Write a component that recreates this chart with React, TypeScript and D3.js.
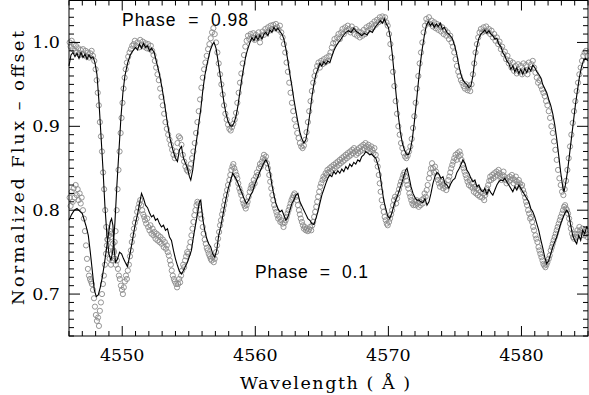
import React from "react";
import * as d3 from "d3";

// ---- Data (wavelength in Å, normalized flux - offset) ----
const modelTop: [number, number][] = [
[4546.0,0.972],[4546.15,0.985],[4546.3,0.988],[4546.45,0.983],[4546.6,0.987],[4546.75,0.981],[4546.9,0.988],[4547.05,0.982],[4547.2,0.986],[4547.35,0.980],[4547.5,0.985],[4547.65,0.981],[4547.8,0.983],[4547.95,0.976],
[4548.1,0.962],[4548.25,0.930],[4548.4,0.890],[4548.55,0.850],[4548.7,0.805],[4548.85,0.770],[4549.0,0.748],[4549.15,0.740],[4549.3,0.752],[4549.45,0.785],[4549.6,0.830],[4549.75,0.870],[4549.9,0.910],
[4550.05,0.940],[4550.2,0.960],[4550.4,0.975],[4550.6,0.985],[4550.8,0.990],[4551.0,0.994],[4551.15,0.991],[4551.3,0.998],[4551.45,0.993],[4551.6,0.999],[4551.75,0.994],[4551.9,0.996],[4552.05,0.990],[4552.2,0.993],[4552.4,0.988],
[4552.6,0.975],[4552.8,0.962],[4553.0,0.945],[4553.2,0.925],[4553.4,0.903],[4553.6,0.885],[4553.8,0.872],[4554.0,0.862],[4554.15,0.858],[4554.3,0.872],[4554.45,0.876],[4554.6,0.862],[4554.75,0.856],[4554.9,0.850],[4555.05,0.840],[4555.15,0.836],
[4555.3,0.848],[4555.45,0.868],[4555.6,0.885],[4555.75,0.903],[4555.9,0.920],[4556.05,0.942],[4556.2,0.960],[4556.4,0.976],[4556.6,0.990],[4556.8,0.998],[4556.9,1.000],[4557.05,0.993],[4557.2,0.978],[4557.35,0.962],[4557.5,0.945],
[4557.65,0.928],[4557.8,0.915],[4557.95,0.906],[4558.1,0.901],[4558.25,0.900],[4558.4,0.904],[4558.55,0.912],[4558.7,0.925],[4558.85,0.942],[4559.0,0.958],[4559.15,0.972],[4559.3,0.985],[4559.45,0.993],[4559.6,1.000],
[4559.75,1.006],[4559.9,1.002],[4560.05,1.008],[4560.2,1.003],[4560.35,1.009],[4560.5,1.004],[4560.65,1.010],[4560.8,1.012],[4560.95,1.008],[4561.1,1.015],[4561.25,1.012],[4561.4,1.018],[4561.55,1.014],[4561.7,1.017],[4561.85,1.013],
[4562.0,1.010],[4562.15,1.004],[4562.3,0.992],[4562.45,0.978],[4562.6,0.962],[4562.75,0.948],[4562.9,0.932],[4563.05,0.918],[4563.2,0.905],[4563.35,0.893],[4563.5,0.885],[4563.65,0.880],[4563.8,0.884],[4563.95,0.898],
[4564.1,0.915],[4564.25,0.935],[4564.4,0.950],[4564.55,0.962],[4564.7,0.968],[4564.85,0.975],[4565.0,0.972],[4565.15,0.977],[4565.3,0.974],[4565.45,0.978],[4565.6,0.976],[4565.75,0.983],[4565.9,0.990],[4566.05,0.995],
[4566.2,0.999],[4566.4,1.003],[4566.6,1.008],[4566.8,1.012],[4567.0,1.014],[4567.2,1.012],[4567.4,1.017],[4567.6,1.013],[4567.8,1.011],[4568.0,1.008],[4568.2,1.011],[4568.4,1.009],[4568.6,1.014],[4568.8,1.012],[4569.0,1.018],
[4569.2,1.022],[4569.4,1.026],[4569.55,1.023],[4569.7,1.028],[4569.85,1.022],[4570.0,1.018],[4570.15,1.005],[4570.3,0.985],[4570.45,0.960],[4570.6,0.935],[4570.75,0.912],[4570.9,0.893],[4571.05,0.880],[4571.2,0.872],
[4571.35,0.867],[4571.5,0.866],[4571.65,0.872],[4571.8,0.885],[4571.95,0.905],[4572.1,0.928],[4572.25,0.952],[4572.4,0.975],[4572.55,0.993],[4572.7,1.008],[4572.85,1.020],[4573.0,1.025],[4573.15,1.020],[4573.3,1.023],
[4573.45,1.018],[4573.6,1.022],[4573.75,1.019],[4573.9,1.023],[4574.05,1.016],[4574.2,1.018],[4574.4,1.012],[4574.6,1.009],[4574.8,1.005],[4575.0,0.995],[4575.15,0.985],[4575.3,0.972],[4575.45,0.962],[4575.6,0.955],
[4575.75,0.952],[4575.9,0.950],[4576.05,0.946],[4576.2,0.948],[4576.35,0.960],[4576.5,0.980],[4576.65,0.995],[4576.8,1.005],[4576.95,1.010],[4577.1,1.012],[4577.25,1.015],[4577.4,1.011],[4577.55,1.014],[4577.7,1.010],
[4577.85,1.008],[4578.0,1.004],[4578.15,1.005],[4578.3,0.998],[4578.45,0.995],[4578.6,0.988],[4578.75,0.984],[4578.9,0.978],[4579.05,0.975],[4579.2,0.968],[4579.35,0.972],[4579.5,0.965],[4579.65,0.970],[4579.8,0.963],
[4579.95,0.968],[4580.1,0.962],[4580.25,0.969],[4580.4,0.964],[4580.55,0.970],[4580.7,0.966],[4580.85,0.973],[4581.0,0.970],[4581.15,0.965],[4581.3,0.962],[4581.45,0.958],[4581.6,0.950],[4581.75,0.945],[4581.9,0.940],
[4582.05,0.932],[4582.2,0.925],[4582.35,0.915],[4582.5,0.902],[4582.65,0.885],[4582.8,0.865],[4582.95,0.845],[4583.1,0.828],[4583.2,0.822],[4583.3,0.830],[4583.45,0.845],[4583.6,0.865],[4583.75,0.885],[4583.9,0.905],
[4584.05,0.925],[4584.2,0.942],[4584.35,0.958],[4584.5,0.970],[4584.65,0.978],[4584.8,0.981],[4585.0,0.978]
];

const modelBottom: [number, number][] = [
[4546.0,0.788],[4546.2,0.795],[4546.4,0.800],[4546.6,0.802],[4546.8,0.799],[4547.0,0.796],[4547.15,0.788],[4547.3,0.780],[4547.45,0.770],[4547.6,0.750],[4547.75,0.728],[4547.9,0.705],[4548.05,0.697],[4548.2,0.699],
[4548.35,0.708],[4548.5,0.720],[4548.65,0.735],[4548.8,0.752],[4548.95,0.770],[4549.1,0.786],[4549.2,0.790],[4549.3,0.782],[4549.4,0.752],[4549.5,0.738],[4549.65,0.742],[4549.8,0.750],[4549.95,0.748],[4550.1,0.742],
[4550.25,0.737],[4550.4,0.733],[4550.55,0.745],[4550.7,0.758],[4550.85,0.772],[4551.0,0.785],[4551.15,0.795],[4551.3,0.808],[4551.45,0.820],[4551.6,0.814],[4551.75,0.806],[4551.9,0.803],[4552.05,0.797],[4552.2,0.792],
[4552.35,0.794],[4552.5,0.788],[4552.65,0.790],[4552.8,0.784],[4552.95,0.780],[4553.1,0.782],[4553.25,0.776],[4553.4,0.778],[4553.55,0.768],[4553.7,0.764],[4553.85,0.752],[4554.0,0.742],[4554.15,0.734],[4554.3,0.727],
[4554.45,0.724],[4554.6,0.728],[4554.75,0.733],[4554.9,0.738],[4555.05,0.745],[4555.2,0.752],[4555.35,0.768],[4555.5,0.782],[4555.65,0.795],[4555.8,0.810],[4555.9,0.812],[4556.05,0.790],[4556.2,0.776],[4556.35,0.766],
[4556.5,0.760],[4556.65,0.756],[4556.8,0.748],[4556.95,0.744],[4557.1,0.752],[4557.25,0.770],[4557.4,0.780],[4557.55,0.793],[4557.7,0.806],[4557.85,0.818],[4558.0,0.828],[4558.15,0.836],[4558.3,0.844],[4558.45,0.840],
[4558.6,0.836],[4558.75,0.830],[4558.9,0.824],[4559.05,0.818],[4559.2,0.812],[4559.35,0.808],[4559.5,0.812],[4559.65,0.818],[4559.8,0.822],[4559.95,0.830],[4560.1,0.836],[4560.25,0.842],[4560.4,0.848],[4560.55,0.853],
[4560.7,0.858],[4560.8,0.860],[4560.95,0.855],[4561.1,0.845],[4561.25,0.830],[4561.4,0.818],[4561.55,0.808],[4561.7,0.802],[4561.85,0.798],[4562.0,0.800],[4562.15,0.794],[4562.3,0.788],[4562.45,0.792],[4562.6,0.800],
[4562.75,0.808],[4562.9,0.812],[4563.05,0.818],[4563.2,0.820],[4563.35,0.810],[4563.5,0.805],[4563.65,0.800],[4563.8,0.795],[4563.95,0.790],[4564.1,0.788],[4564.25,0.784],[4564.4,0.783],[4564.55,0.790],[4564.7,0.798],
[4564.85,0.808],[4565.0,0.818],[4565.15,0.825],[4565.3,0.832],[4565.45,0.838],[4565.6,0.842],[4565.75,0.840],[4565.9,0.846],[4566.05,0.843],[4566.2,0.847],[4566.35,0.844],[4566.5,0.849],[4566.65,0.846],[4566.8,0.852],
[4566.95,0.849],[4567.1,0.855],[4567.25,0.852],[4567.4,0.857],[4567.55,0.855],[4567.7,0.860],[4567.85,0.858],[4568.0,0.864],[4568.15,0.866],[4568.3,0.870],[4568.45,0.868],[4568.6,0.866],[4568.75,0.867],[4568.9,0.864],
[4569.05,0.862],[4569.2,0.855],[4569.35,0.845],[4569.5,0.828],[4569.65,0.812],[4569.8,0.802],[4569.95,0.793],[4570.1,0.790],[4570.25,0.796],[4570.4,0.805],[4570.55,0.812],[4570.7,0.818],[4570.85,0.825],[4571.0,0.832],
[4571.15,0.840],[4571.3,0.848],[4571.4,0.850],[4571.55,0.840],[4571.7,0.828],[4571.85,0.820],[4572.0,0.815],[4572.15,0.812],[4572.3,0.812],[4572.45,0.810],[4572.6,0.809],[4572.75,0.814],[4572.9,0.806],[4573.05,0.810],
[4573.2,0.820],[4573.35,0.832],[4573.5,0.840],[4573.65,0.845],[4573.8,0.843],[4573.95,0.838],[4574.1,0.840],[4574.25,0.832],[4574.4,0.830],[4574.55,0.826],[4574.7,0.832],[4574.85,0.836],[4575.0,0.838],[4575.15,0.845],
[4575.3,0.849],[4575.45,0.854],[4575.6,0.860],[4575.75,0.856],[4575.9,0.848],[4576.05,0.844],[4576.2,0.838],[4576.35,0.834],[4576.5,0.836],[4576.65,0.828],[4576.8,0.830],[4576.95,0.824],[4577.1,0.822],[4577.25,0.826],
[4577.4,0.819],[4577.55,0.825],[4577.7,0.821],[4577.85,0.818],[4578.0,0.824],[4578.15,0.830],[4578.3,0.834],[4578.45,0.836],[4578.6,0.835],[4578.75,0.838],[4578.9,0.834],[4579.05,0.830],[4579.2,0.826],[4579.35,0.822],
[4579.5,0.828],[4579.65,0.824],[4579.8,0.830],[4579.95,0.826],[4580.1,0.822],[4580.25,0.818],[4580.4,0.814],[4580.55,0.810],[4580.7,0.802],[4580.85,0.798],[4581.0,0.792],[4581.15,0.784],[4581.3,0.776],[4581.45,0.765],
[4581.6,0.755],[4581.75,0.744],[4581.9,0.736],[4582.05,0.740],[4582.2,0.748],[4582.35,0.756],[4582.5,0.762],[4582.65,0.768],[4582.8,0.776],[4582.95,0.784],[4583.1,0.790],[4583.25,0.796],[4583.4,0.800],[4583.55,0.796],
[4583.7,0.782],[4583.85,0.770],[4584.0,0.764],[4584.15,0.760],[4584.3,0.770],[4584.45,0.764],[4584.6,0.776],[4584.75,0.772],[4584.9,0.780],[4585.0,0.778]
];

const obsTop: [number, number][] = [
[4546.05,1.000],[4546.12,0.995],[4546.2,1.002],[4546.28,0.992],[4546.35,0.998],[4546.45,0.990],[4546.52,0.996],[4546.6,0.988],[4546.7,0.993],[4546.8,0.985],[4546.88,0.991],[4546.98,0.986],[4547.05,0.992],[4547.15,0.985],
[4547.25,0.990],[4547.33,0.983],[4547.42,0.988],[4547.52,0.982],[4547.6,0.987],[4547.7,0.990],[4547.8,0.984],[4547.9,0.978],[4548.0,0.968],[4548.08,0.955],[4548.16,0.940],[4548.24,0.925],[4548.32,0.905],[4548.4,0.888],
[4548.48,0.870],[4548.56,0.845],[4548.64,0.825],[4548.72,0.800],[4548.8,0.780],[4548.88,0.765],[4548.96,0.752],[4549.05,0.742],[4549.15,0.735],[4549.25,0.740],[4549.35,0.752],[4549.43,0.762],[4549.5,0.775],[4549.58,0.800],
[4549.65,0.825],[4549.72,0.848],[4549.8,0.870],[4549.88,0.892],[4549.95,0.910],[4550.02,0.928],[4550.1,0.945],[4550.18,0.958],[4550.26,0.968],[4550.35,0.976],[4550.45,0.983],[4550.55,0.988],[4550.65,0.992],[4550.75,0.996],
[4550.85,0.998],[4550.95,1.002],[4551.05,0.996],[4551.15,1.000],[4551.25,0.994],[4551.35,1.003],[4551.45,0.997],[4551.55,1.001],[4551.65,0.995],[4551.75,0.999],[4551.85,0.993],[4551.95,0.998],[4552.05,0.992],[4552.15,0.996],
[4552.25,0.990],[4552.35,0.985],[4552.45,0.978],[4552.55,0.970],[4552.65,0.962],[4552.75,0.955],[4552.85,0.945],[4552.95,0.935],[4553.05,0.925],[4553.15,0.915],[4553.25,0.905],[4553.35,0.897],[4553.45,0.890],[4553.55,0.884],
[4553.65,0.878],[4553.75,0.872],[4553.85,0.866],[4553.95,0.862],[4554.05,0.870],[4554.15,0.880],[4554.25,0.888],[4554.35,0.886],[4554.45,0.878],[4554.55,0.866],[4554.65,0.858],[4554.75,0.852],[4554.85,0.848],[4554.95,0.846],
[4555.05,0.850],[4555.15,0.855],[4555.25,0.862],[4555.35,0.870],[4555.45,0.880],[4555.55,0.892],[4555.65,0.905],[4555.75,0.918],[4555.85,0.932],[4555.95,0.946],[4556.05,0.958],[4556.15,0.968],[4556.25,0.976],[4556.35,0.984],
[4556.45,0.992],[4556.55,0.998],[4556.65,1.005],[4556.75,1.012],[4556.85,1.017],[4556.95,1.010],[4557.05,1.000],[4557.15,0.988],[4557.25,0.975],[4557.35,0.962],[4557.45,0.950],[4557.55,0.938],[4557.65,0.925],[4557.75,0.915],
[4557.85,0.908],[4557.95,0.902],[4558.05,0.897],[4558.15,0.895],[4558.25,0.899],[4558.35,0.903],[4558.45,0.908],[4558.55,0.916],[4558.65,0.928],[4558.75,0.940],[4558.85,0.952],[4558.95,0.963],[4559.05,0.975],[4559.15,0.985],
[4559.25,0.995],[4559.35,1.002],[4559.45,1.008],[4559.55,1.004],[4559.65,1.010],[4559.75,1.006],[4559.85,1.011],[4559.95,1.003],[4560.05,1.009],[4560.15,1.005],[4560.25,1.012],[4560.35,1.000],[4560.45,1.008],[4560.55,1.013],
[4560.65,1.009],[4560.75,1.016],[4560.85,1.012],[4560.95,1.018],[4561.05,1.014],[4561.15,1.020],[4561.25,1.016],[4561.35,1.021],[4561.45,1.017],[4561.55,1.022],[4561.65,1.018],[4561.75,1.015],[4561.85,1.020],[4561.95,1.012],
[4562.05,1.006],[4562.15,0.998],[4562.25,0.988],[4562.35,0.976],[4562.45,0.965],[4562.55,0.952],[4562.65,0.940],[4562.75,0.928],[4562.85,0.918],[4562.95,0.908],[4563.05,0.900],[4563.15,0.892],[4563.25,0.886],[4563.35,0.880],
[4563.45,0.876],[4563.55,0.874],[4563.65,0.877],[4563.75,0.884],[4563.85,0.893],[4563.95,0.905],[4564.05,0.918],[4564.15,0.930],[4564.25,0.942],[4564.35,0.952],[4564.45,0.960],[4564.55,0.966],[4564.65,0.972],[4564.75,0.976],
[4564.85,0.970],[4564.95,0.978],[4565.05,0.974],[4565.15,0.980],[4565.25,0.976],[4565.35,0.982],[4565.45,0.978],[4565.55,0.984],[4565.65,0.988],[4565.75,0.994],[4565.85,0.999],[4565.95,1.004],[4566.05,1.000],[4566.15,1.006],
[4566.25,1.010],[4566.35,1.004],[4566.45,1.012],[4566.55,1.016],[4566.65,1.010],[4566.75,1.018],[4566.85,1.014],[4566.95,1.020],[4567.05,1.016],[4567.15,1.012],[4567.25,1.019],[4567.35,1.015],[4567.45,1.010],[4567.55,1.016],
[4567.65,1.008],[4567.75,1.013],[4567.85,1.006],[4567.95,1.012],[4568.05,1.008],[4568.15,1.015],[4568.25,1.010],[4568.35,1.018],[4568.45,1.014],[4568.55,1.020],[4568.65,1.016],[4568.75,1.022],[4568.85,1.018],[4568.95,1.025],
[4569.05,1.021],[4569.15,1.027],[4569.25,1.024],[4569.35,1.030],[4569.45,1.026],[4569.55,1.031],[4569.65,1.027],[4569.75,1.030],[4569.85,1.024],[4569.95,1.020],[4570.05,1.010],[4570.15,0.998],[4570.25,0.982],[4570.35,0.965],
[4570.45,0.948],[4570.55,0.930],[4570.65,0.915],[4570.75,0.900],[4570.85,0.890],[4570.95,0.880],[4571.05,0.874],[4571.15,0.868],[4571.25,0.864],[4571.35,0.862],[4571.45,0.865],[4571.55,0.870],[4571.65,0.876],[4571.75,0.885],
[4571.85,0.898],[4571.95,0.912],[4572.05,0.928],[4572.15,0.945],[4572.25,0.960],[4572.35,0.975],[4572.45,0.988],[4572.55,1.000],[4572.65,1.012],[4572.75,1.020],[4572.85,1.028],[4572.95,1.024],[4573.05,1.030],[4573.15,1.022],
[4573.25,1.026],[4573.35,1.019],[4573.45,1.024],[4573.55,1.017],[4573.65,1.022],[4573.75,1.015],[4573.85,1.020],[4573.95,1.013],[4574.05,1.018],[4574.15,1.010],[4574.25,1.015],[4574.35,1.008],[4574.45,1.012],[4574.55,1.004],
[4574.65,1.008],[4574.75,1.000],[4574.85,0.995],[4574.95,0.988],[4575.05,0.980],[4575.15,0.972],[4575.25,0.965],[4575.35,0.960],[4575.45,0.955],[4575.55,0.952],[4575.65,0.948],[4575.75,0.945],[4575.85,0.950],[4575.95,0.943],
[4576.05,0.946],[4576.15,0.942],[4576.25,0.950],[4576.35,0.962],[4576.45,0.975],[4576.55,0.988],[4576.65,0.998],[4576.75,1.006],[4576.85,1.012],[4576.95,1.016],[4577.05,1.012],[4577.15,1.018],[4577.25,1.014],[4577.35,1.019],
[4577.45,1.013],[4577.55,1.016],[4577.65,1.010],[4577.75,1.014],[4577.85,1.006],[4577.95,1.010],[4578.05,1.002],[4578.15,1.006],[4578.25,0.998],[4578.35,1.001],[4578.45,0.992],[4578.55,0.995],[4578.65,0.986],[4578.75,0.989],
[4578.85,0.980],[4578.95,0.984],[4579.05,0.975],[4579.15,0.978],[4579.25,0.970],[4579.35,0.976],[4579.45,0.966],[4579.55,0.972],[4579.65,0.963],[4579.75,0.974],[4579.85,0.965],[4579.95,0.972],[4580.05,0.962],[4580.15,0.975],
[4580.25,0.966],[4580.35,0.973],[4580.45,0.962],[4580.55,0.976],[4580.65,0.968],[4580.75,0.974],[4580.85,0.978],[4580.95,0.970],[4581.05,0.964],[4581.15,0.958],[4581.25,0.952],[4581.35,0.955],[4581.45,0.948],[4581.55,0.944],
[4581.65,0.940],[4581.75,0.936],[4581.85,0.930],[4581.95,0.925],[4582.05,0.918],[4582.15,0.910],[4582.25,0.900],[4582.35,0.892],[4582.45,0.882],[4582.55,0.872],[4582.65,0.860],[4582.75,0.848],[4582.85,0.838],[4582.95,0.830],
[4583.05,0.822],[4583.15,0.818],[4583.25,0.825],[4583.35,0.835],[4583.45,0.848],[4583.55,0.862],[4583.65,0.876],[4583.75,0.890],[4583.85,0.904],[4583.95,0.918],[4584.05,0.930],[4584.15,0.942],[4584.25,0.952],[4584.35,0.962],
[4584.45,0.970],[4584.55,0.978],[4584.65,0.984],[4584.75,0.988],[4584.85,0.990],[4584.95,0.984]
];

const obsBottom: [number, number][] = [
[4546.05,0.815],[4546.12,0.805],[4546.2,0.822],[4546.28,0.810],[4546.35,0.826],[4546.42,0.815],[4546.5,0.830],[4546.58,0.818],[4546.65,0.825],[4546.72,0.812],[4546.8,0.820],[4546.88,0.808],[4546.95,0.815],[4547.05,0.800],
[4547.12,0.790],[4547.2,0.775],[4547.28,0.758],[4547.35,0.742],[4547.42,0.730],[4547.5,0.722],[4547.58,0.718],[4547.65,0.715],[4547.72,0.712],[4547.8,0.705],[4547.88,0.695],[4547.95,0.685],[4548.02,0.675],[4548.1,0.668],
[4548.18,0.672],[4548.25,0.662],[4548.32,0.680],[4548.4,0.690],[4548.48,0.700],[4548.55,0.712],[4548.62,0.722],[4548.7,0.735],[4548.78,0.748],[4548.85,0.758],[4548.92,0.765],[4549.0,0.770],[4549.08,0.775],[4549.15,0.768],
[4549.22,0.772],[4549.3,0.760],[4549.38,0.750],[4549.45,0.742],[4549.52,0.735],[4549.6,0.740],[4549.68,0.730],[4549.75,0.722],[4549.82,0.718],[4549.9,0.710],[4549.98,0.705],[4550.05,0.700],[4550.12,0.708],[4550.2,0.715],
[4550.28,0.722],[4550.35,0.718],[4550.42,0.728],[4550.5,0.735],[4550.58,0.745],[4550.65,0.752],[4550.72,0.762],[4550.8,0.770],[4550.88,0.778],[4550.95,0.785],[4551.05,0.790],[4551.12,0.798],[4551.2,0.803],[4551.28,0.808],
[4551.35,0.812],[4551.42,0.806],[4551.5,0.800],[4551.58,0.795],[4551.65,0.792],[4551.72,0.788],[4551.8,0.784],[4551.88,0.790],[4551.95,0.780],[4552.05,0.776],[4552.12,0.782],[4552.2,0.772],[4552.28,0.778],[4552.35,0.770],
[4552.42,0.774],[4552.5,0.766],[4552.58,0.772],[4552.65,0.764],[4552.72,0.770],[4552.8,0.762],[4552.88,0.768],[4552.95,0.760],[4553.05,0.765],[4553.12,0.756],[4553.2,0.762],[4553.28,0.754],[4553.35,0.758],[4553.42,0.750],
[4553.5,0.746],[4553.58,0.740],[4553.65,0.735],[4553.72,0.728],[4553.8,0.722],[4553.88,0.718],[4553.95,0.715],[4554.05,0.712],[4554.12,0.708],[4554.2,0.712],[4554.28,0.718],[4554.35,0.714],[4554.42,0.722],[4554.5,0.728],
[4554.58,0.735],[4554.65,0.732],[4554.72,0.740],[4554.8,0.745],[4554.88,0.750],[4554.95,0.748],[4555.05,0.756],[4555.12,0.762],[4555.2,0.770],[4555.28,0.778],[4555.35,0.786],[4555.42,0.794],[4555.5,0.800],[4555.58,0.806],
[4555.65,0.810],[4555.72,0.808],[4555.8,0.800],[4555.88,0.795],[4555.95,0.790],[4556.05,0.780],[4556.12,0.772],[4556.2,0.765],[4556.28,0.760],[4556.35,0.755],[4556.42,0.752],[4556.5,0.748],[4556.58,0.745],[4556.65,0.742],
[4556.72,0.740],[4556.8,0.744],[4556.88,0.738],[4556.95,0.742],[4557.05,0.750],[4557.12,0.758],[4557.2,0.766],[4557.28,0.774],[4557.35,0.782],[4557.42,0.788],[4557.5,0.795],[4557.58,0.800],[4557.65,0.806],[4557.72,0.812],
[4557.8,0.818],[4557.88,0.824],[4557.95,0.830],[4558.05,0.836],[4558.12,0.842],[4558.2,0.848],[4558.28,0.852],[4558.35,0.855],[4558.42,0.850],[4558.5,0.846],[4558.58,0.842],[4558.65,0.838],[4558.72,0.832],[4558.8,0.826],
[4558.88,0.822],[4558.95,0.818],[4559.05,0.812],[4559.12,0.808],[4559.2,0.805],[4559.28,0.802],[4559.35,0.806],[4559.42,0.810],[4559.5,0.816],[4559.58,0.822],[4559.65,0.826],[4559.72,0.830],[4559.8,0.828],[4559.88,0.836],
[4559.95,0.832],[4560.05,0.840],[4560.12,0.845],[4560.2,0.842],[4560.28,0.850],[4560.35,0.855],[4560.42,0.852],[4560.5,0.858],[4560.58,0.862],[4560.65,0.866],[4560.72,0.860],[4560.8,0.864],[4560.88,0.856],[4560.95,0.850],
[4561.05,0.842],[4561.12,0.834],[4561.2,0.826],[4561.28,0.818],[4561.35,0.812],[4561.42,0.806],[4561.5,0.802],[4561.58,0.798],[4561.65,0.794],[4561.72,0.790],[4561.8,0.792],[4561.88,0.786],[4561.95,0.788],[4562.05,0.784],
[4562.12,0.780],[4562.2,0.785],[4562.28,0.788],[4562.35,0.792],[4562.42,0.796],[4562.5,0.800],[4562.58,0.804],[4562.65,0.808],[4562.72,0.812],[4562.8,0.815],[4562.88,0.818],[4562.95,0.820],[4563.05,0.816],[4563.12,0.812],
[4563.2,0.806],[4563.28,0.800],[4563.35,0.795],[4563.42,0.790],[4563.5,0.786],[4563.58,0.782],[4563.65,0.778],[4563.72,0.780],[4563.8,0.776],[4563.88,0.778],[4563.95,0.775],[4564.05,0.777],[4564.12,0.780],[4564.2,0.776],
[4564.28,0.782],[4564.35,0.786],[4564.42,0.792],[4564.5,0.798],[4564.58,0.804],[4564.65,0.810],[4564.72,0.816],[4564.8,0.822],[4564.88,0.828],[4564.95,0.832],[4565.05,0.836],[4565.12,0.840],[4565.2,0.838],[4565.28,0.844],
[4565.35,0.842],[4565.42,0.848],[4565.5,0.845],[4565.58,0.850],[4565.65,0.846],[4565.72,0.852],[4565.8,0.848],[4565.88,0.854],[4565.95,0.850],[4566.05,0.856],[4566.12,0.852],[4566.2,0.858],[4566.28,0.854],[4566.35,0.860],
[4566.42,0.856],[4566.5,0.862],[4566.58,0.858],[4566.65,0.864],[4566.72,0.860],[4566.8,0.866],[4566.88,0.862],[4566.95,0.868],[4567.05,0.864],[4567.12,0.870],[4567.2,0.866],[4567.28,0.872],[4567.35,0.868],[4567.42,0.874],
[4567.5,0.870],[4567.58,0.866],[4567.65,0.872],[4567.72,0.868],[4567.8,0.874],[4567.88,0.870],[4567.95,0.876],[4568.05,0.872],[4568.12,0.878],[4568.2,0.874],[4568.28,0.880],[4568.35,0.876],[4568.42,0.872],[4568.5,0.878],
[4568.58,0.874],[4568.65,0.870],[4568.72,0.876],[4568.8,0.872],[4568.88,0.868],[4568.95,0.874],[4569.05,0.866],[4569.12,0.860],[4569.2,0.852],[4569.28,0.842],[4569.35,0.832],[4569.42,0.822],[4569.5,0.812],[4569.58,0.804],
[4569.65,0.798],[4569.72,0.792],[4569.8,0.788],[4569.88,0.784],[4569.95,0.782],[4570.05,0.786],[4570.12,0.790],[4570.2,0.795],[4570.28,0.800],[4570.35,0.806],[4570.42,0.812],[4570.5,0.816],[4570.58,0.808],[4570.65,0.814],
[4570.72,0.820],[4570.8,0.825],[4570.88,0.830],[4570.95,0.834],[4571.05,0.838],[4571.12,0.842],[4571.2,0.845],[4571.28,0.840],[4571.35,0.835],[4571.42,0.830],[4571.5,0.826],[4571.58,0.820],[4571.65,0.816],[4571.72,0.812],
[4571.8,0.808],[4571.88,0.806],[4571.95,0.810],[4572.05,0.806],[4572.12,0.812],[4572.2,0.808],[4572.28,0.804],[4572.35,0.810],[4572.42,0.806],[4572.5,0.812],[4572.58,0.808],[4572.65,0.814],[4572.72,0.820],[4572.8,0.816],
[4572.88,0.824],[4572.95,0.830],[4573.05,0.838],[4573.12,0.844],[4573.2,0.850],[4573.28,0.856],[4573.35,0.850],[4573.42,0.845],[4573.5,0.852],[4573.58,0.846],[4573.65,0.840],[4573.72,0.836],[4573.8,0.832],[4573.88,0.828],
[4573.95,0.834],[4574.05,0.830],[4574.12,0.826],[4574.2,0.832],[4574.28,0.828],[4574.35,0.824],[4574.42,0.830],[4574.5,0.836],[4574.58,0.840],[4574.65,0.845],[4574.72,0.850],[4574.8,0.854],[4574.88,0.858],[4574.95,0.862],
[4575.05,0.866],[4575.12,0.860],[4575.2,0.868],[4575.28,0.864],[4575.35,0.870],[4575.42,0.866],[4575.5,0.860],[4575.58,0.854],[4575.65,0.850],[4575.72,0.846],[4575.8,0.842],[4575.88,0.838],[4575.95,0.834],[4576.05,0.830],
[4576.12,0.836],[4576.2,0.828],[4576.28,0.832],[4576.35,0.826],[4576.42,0.822],[4576.5,0.828],[4576.58,0.820],[4576.65,0.826],[4576.72,0.818],[4576.8,0.824],[4576.88,0.816],[4576.95,0.822],[4577.05,0.815],[4577.12,0.820],
[4577.2,0.812],[4577.28,0.818],[4577.35,0.822],[4577.42,0.826],[4577.5,0.830],[4577.58,0.835],[4577.65,0.840],[4577.72,0.836],[4577.8,0.842],[4577.88,0.838],[4577.95,0.844],[4578.05,0.840],[4578.12,0.846],[4578.2,0.842],
[4578.28,0.848],[4578.35,0.844],[4578.42,0.840],[4578.5,0.836],[4578.58,0.842],[4578.65,0.846],[4578.72,0.840],[4578.8,0.836],[4578.88,0.832],[4578.95,0.838],[4579.05,0.834],[4579.12,0.840],[4579.2,0.836],[4579.28,0.842],
[4579.35,0.838],[4579.42,0.832],[4579.5,0.836],[4579.58,0.840],[4579.65,0.834],[4579.72,0.830],[4579.8,0.836],[4579.88,0.832],[4579.95,0.828],[4580.05,0.830],[4580.12,0.824],[4580.2,0.820],[4580.28,0.815],[4580.35,0.810],
[4580.42,0.806],[4580.5,0.800],[4580.58,0.796],[4580.65,0.790],[4580.72,0.792],[4580.8,0.786],[4580.88,0.780],[4580.95,0.776],[4581.05,0.770],[4581.12,0.766],[4581.2,0.762],[4581.28,0.756],[4581.35,0.752],[4581.42,0.748],
[4581.5,0.744],[4581.58,0.740],[4581.65,0.736],[4581.72,0.734],[4581.8,0.732],[4581.88,0.735],[4581.95,0.738],[4582.05,0.742],[4582.12,0.746],[4582.2,0.752],[4582.28,0.756],[4582.35,0.760],[4582.42,0.764],[4582.5,0.768],
[4582.58,0.772],[4582.65,0.776],[4582.72,0.780],[4582.8,0.784],[4582.88,0.788],[4582.95,0.792],[4583.05,0.796],[4583.12,0.800],[4583.2,0.804],[4583.28,0.806],[4583.35,0.802],[4583.42,0.800],[4583.5,0.796],[4583.58,0.790],
[4583.65,0.784],[4583.72,0.778],[4583.8,0.772],[4583.88,0.768],[4583.95,0.766],[4584.05,0.772],[4584.12,0.768],[4584.2,0.776],[4584.28,0.772],[4584.35,0.780],[4584.42,0.776],[4584.5,0.770],[4584.58,0.778],[4584.65,0.774],
[4584.72,0.770],[4584.8,0.776],[4584.88,0.772],[4584.95,0.768]
];

const xDomain: [number, number] = [4546, 4585];
const yDomain: [number, number] = [0.65, 1.05];
const xMajorTicks = [4550, 4560, 4570, 4580];
const yMajorTicks = [0.7, 0.8, 0.9, 1.0];
const xTitle = "Wavelength ( Å )";
const yTitle = "Normalized Flux – offset";
const phaseLabels = ["Phase  =  0.98", "Phase  =  0.1"];

const W = 589, H = 395;
const L = 69, R = 588, T = 0.5, B = 336;

export default function App() {
  const x = d3.scaleLinear().domain(xDomain).range([L, R]);
  const y = d3.scaleLinear().domain(yDomain).range([B, T]);
  const line = d3.line<[number, number]>().x(d => x(d[0])).y(d => y(d[1]));
  const xMinor = d3.range(Math.ceil(xDomain[0]), xDomain[1] + 0.001, 1);
  const yMinor = d3.range(0, 41).map(i => 0.65 + i * 0.01);
  const serif = "'DejaVu Serif', serif";
  const sans = "'Liberation Sans', Arial, sans-serif";
  const isMajorX = (v: number) => Math.abs(v % 10) < 1e-6;
  const isMajorY = (v: number) => Math.abs(Math.round(v * 10) - v * 10) < 1e-6;
  return (
    <svg width={W} height={H} style={{ position: "absolute", left: 0, top: 0, background: "#fff" }}>
      <rect x={0} y={0} width={W} height={H} fill="#fff" />
      <g>
        {obsTop.map((d, i) => (
          <circle key={"t" + i} cx={x(d[0])} cy={y(d[1])} r={2.6} fill="none" stroke="#8a8a8a" strokeWidth={0.9} />
        ))}
        {obsBottom.map((d, i) => (
          <circle key={"b" + i} cx={x(d[0])} cy={y(d[1])} r={2.6} fill="none" stroke="#8a8a8a" strokeWidth={0.9} />
        ))}
      </g>
      <path d={line(modelTop) || ""} fill="none" stroke="#000" strokeWidth={1.1} />
      <path d={line(modelBottom) || ""} fill="none" stroke="#000" strokeWidth={1.1} />
      <rect x={L} y={T} width={R - L} height={B - T} fill="none" stroke="#000" strokeWidth={1} />
      {xMinor.map(v => {
        const len = isMajorX(v) ? 10 : 5;
        return (
          <g key={"xt" + v}>
            <line x1={x(v)} x2={x(v)} y1={B} y2={B - len} stroke="#000" />
            <line x1={x(v)} x2={x(v)} y1={T} y2={T + len} stroke="#000" />
          </g>
        );
      })}
      {yMinor.map(v => {
        const len = isMajorY(v) ? 11 : 5;
        return (
          <g key={"yt" + v.toFixed(2)}>
            <line x1={L} x2={L + len} y1={y(v)} y2={y(v)} stroke="#000" />
            <line x1={R} x2={R - len} y1={y(v)} y2={y(v)} stroke="#000" />
          </g>
        );
      })}
      {xMajorTicks.map(v => (
        <text key={"xl" + v} x={x(v)} y={361} textAnchor="middle" fontFamily={serif} fontSize={17.5} fill="#000">{v}</text>
      ))}
      {yMajorTicks.map(v => (
        <text key={"yl" + v} x={60} y={y(v) + 6} textAnchor="end" fontFamily={serif} fontSize={17.5} fill="#000">{v.toFixed(1)}</text>
      ))}
      <text x={325} y={389} textAnchor="middle" fontFamily={serif} fontSize={17.5} fill="#000" textLength={170} lengthAdjust="spacing" style={{ whiteSpace: "pre" }}>{xTitle}</text>
      <text transform={`translate(24,168) rotate(-90)`} textAnchor="middle" fontFamily={serif} fontSize={17.5} fill="#000" textLength={274} lengthAdjust="spacing">{yTitle}</text>
      <text x={122} y={26} fontFamily={sans} fontSize={17.5} fill="#000" textLength={126} lengthAdjust="spacing" style={{ whiteSpace: "pre" }}>{phaseLabels[0]}</text>
      <text x={255} y={278} fontFamily={sans} fontSize={17.5} fill="#000" textLength={113} lengthAdjust="spacing" style={{ whiteSpace: "pre" }}>{phaseLabels[1]}</text>
    </svg>
  );
}
